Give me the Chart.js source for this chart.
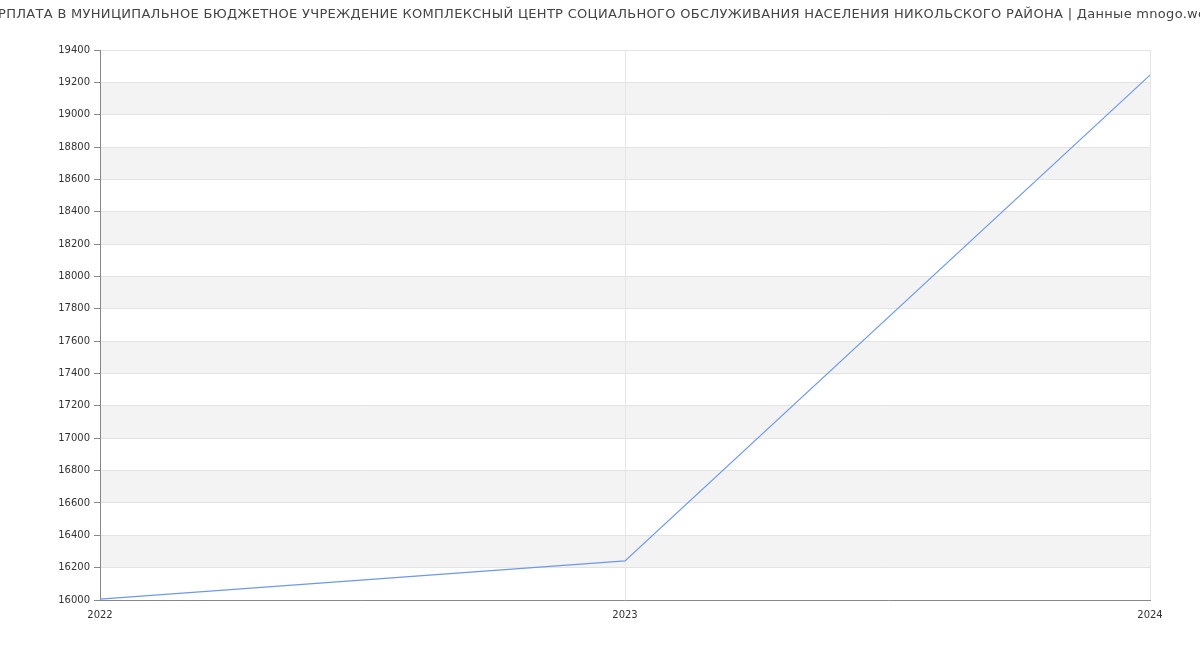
<!DOCTYPE html>
<html><head><meta charset="utf-8">
<script src="https://cdn.jsdelivr.net/npm/chart.js@4"></script>
<style>html,body{margin:0;padding:0;background:#fff;}#wrap{width:1200px;height:650px;}</style>
</head><body><div id="wrap"><canvas id="c" width="1200" height="650"></canvas></div>
<script>
const titleText = "ЗАРПЛАТА В МУНИЦИПАЛЬНОЕ БЮДЖЕТНОЕ УЧРЕЖДЕНИЕ КОМПЛЕКСНЫЙ ЦЕНТР СОЦИАЛЬНОГО ОБСЛУЖИВАНИЯ НАСЕЛЕНИЯ НИКОЛЬСКОГО РАЙОНА | Данные mnogo.work";
const years = ["2022", "2023", "2024"];
const salary = [16005, 16242, 19245];
const yMin = 16000, yMax = 19400, yStep = 200;

const bands = {
  id: 'bands',
  beforeDraw(chart) {
    const {ctx, chartArea, scales} = chart;
    const y = scales.y;
    ctx.save();
    ctx.fillStyle = '#f3f3f3';
    const ticks = y.ticks;
    for (let i = 0; i < ticks.length - 1; i++) {
      if (i % 2 === 1) {
        const top = y.getPixelForValue(ticks[i + 1].value);
        const bot = y.getPixelForValue(ticks[i].value);
        ctx.fillRect(chartArea.left, top, chartArea.right - chartArea.left, bot - top);
      }
    }
    ctx.restore();
  }
};

const wideTitle = {
  id: 'wideTitle',
  afterDraw(chart) {
    const ctx = chart.ctx;
    ctx.save();
    ctx.font = '13px "DejaVu Sans"';
    try { ctx.letterSpacing = '0.3px'; } catch (e) {}
    ctx.fillStyle = '#444';
    ctx.textAlign = 'center';
    ctx.textBaseline = 'middle';
    ctx.fillText(titleText, chart.width / 2, 15);
    ctx.restore();
  }
};

new Chart(document.getElementById('c'), {
  type: 'line',
  data: {
    labels: years,
    datasets: [{
      data: salary,
      borderColor: '#6f98ec',
      borderWidth: 1.2,
      pointRadius: 0,
      fill: false,
      tension: 0
    }]
  },
  options: {
    responsive: false,
    animation: false,
    layout: { padding: { left: 0, right: 50, top: 50, bottom: 20 } },
    plugins: {
      legend: { display: false },
      tooltip: { enabled: false },
      title: { display: false }
    },
    scales: {
      x: {
        type: 'category',
        offset: false,
        grid: { color: '#e6e6e6', drawTicks: false, tickLength: 0 },
        border: { color: '#888', width: 1 },
        ticks: { color: '#333', font: { family: 'DejaVu Sans', size: 10 }, padding: 9, maxRotation: 0 }
      },
      y: {
        min: yMin, max: yMax,
        grid: { color: '#e3e3e3', tickLength: 6, tickColor: '#888' },
        border: { color: '#888', width: 1 },
        ticks: { stepSize: yStep, color: '#333', font: { family: 'DejaVu Sans', size: 10 }, padding: 4,
                 callback: (v) => String(v) },
        afterFit(scale) { scale.width = 100; }
      }
    }
  },
  plugins: [bands, wideTitle]
});
</script>
</body></html>
